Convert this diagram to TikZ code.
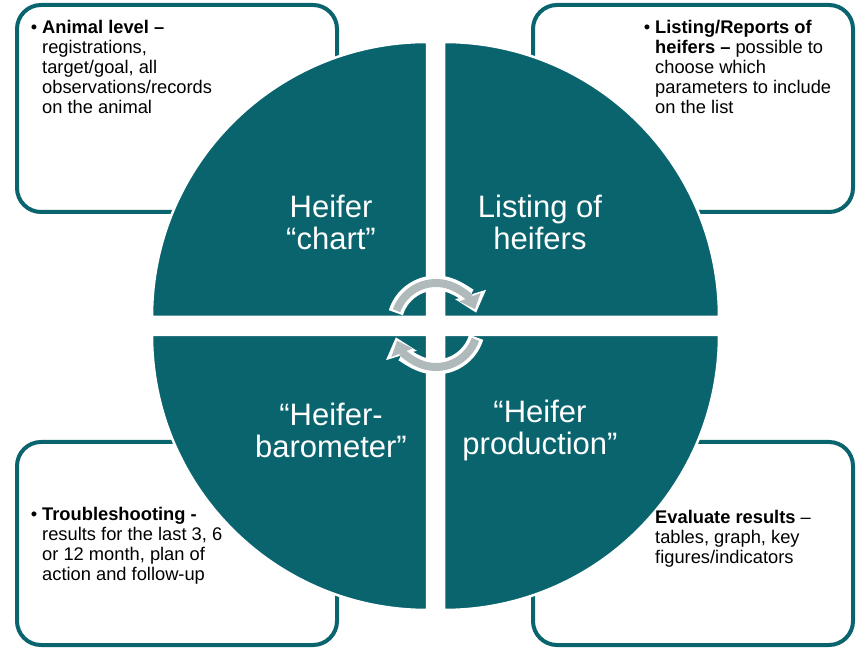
\documentclass[tikz,border=0pt]{standalone}
\usepackage{fontspec}
\setmainfont{Liberation Sans}
\usetikzlibrary{arrows.meta,calc}
\definecolor{heiferteal}{RGB}{9,100,110}
\definecolor{cyclegray}{RGB}{176,186,186}
\begin{document}
\begin{tikzpicture}[x=1pt,y=1pt,
  infobox/.style={draw=heiferteal, line width=4pt, rounded corners=24pt, fill=white},
  quarter/.style={fill=heiferteal, draw=white, line width=2.5pt},
  notetext/.style={anchor=north west, inner sep=0pt, align=left, font=\fontsize{18.3}{20}\selectfont},
  qtext/.style={text=white, inner sep=0pt, align=center, font=\fontsize{31}{32}\selectfont},
  cycleback/.style={white, line width=15pt, -{Triangle[width=31pt,length=19pt]}},
  cyclefront/.style={cyclegray, line width=8pt, -{Triangle[width=22pt,length=13pt]}}]
\useasboundingbox (0,0) rectangle (856,648);
% boxes in the corners
\draw[infobox] (17,643) rectangle (337,436);
\draw[infobox] (533,643) rectangle (853,436);
\draw[infobox] (17,206) rectangle (337,3);
\draw[infobox] (533,206) rectangle (853,3);
% the four quarters
\path[quarter] (427,331) -- (152,331) arc (180:90:275) -- cycle;
\path[quarter] (444,331) -- (444,606) arc (90:0:275) -- cycle;
\path[quarter] (427,313) -- (427,38) arc (270:180:275) -- cycle;
\path[quarter] (444,313) -- (719,313) arc (0:-90:275) -- cycle;
% cycle arrows
\coordinate (hub) at (436,323);
\draw[cycleback] ($(hub)+(163:42)$) arc (163:17:42);
\draw[cyclefront] ($(hub)+(160:42)$) arc (160:22:42);
\draw[cycleback] ($(hub)+(-17:42)$) arc (-17:-163:42);
\draw[cyclefront] ($(hub)+(-20:42)$) arc (-20:-158:42);
% quarter titles
\node[qtext] (chart) at (331,426) {Heifer\\“chart”};
\node[qtext] (listing) at (540,426) {Listing of\\heifers};
\node[qtext] (barometer) at (331,218) {“Heifer-\\barometer”};
\node[qtext] (production) at (540,218) {“Heifer\\production”};
% box texts
\node[notetext] (animal) at (42,628) {\llap{\textbullet\hspace{5pt}}\textbf{Animal level –}\\registrations,\\target/goal, all\\observations/records\\on the animal};
\node[notetext] (reports) at (655,628) {\llap{\textbullet\hspace{5pt}}\textbf{Listing/Reports of}\\\textbf{heifers –} possible to\\choose which\\parameters to include\\on the list};
\node[notetext] (trouble) at (42,141) {\llap{\textbullet\hspace{5pt}}\textbf{Troubleshooting -}\\results for the last 3, 6\\or 12 month, plan of\\action and follow-up};
\node[notetext] (evaluate) at (655,138) {\textbf{Evaluate results} –\\tables, graph, key\\figures/indicators};
\end{tikzpicture}
\end{document}
